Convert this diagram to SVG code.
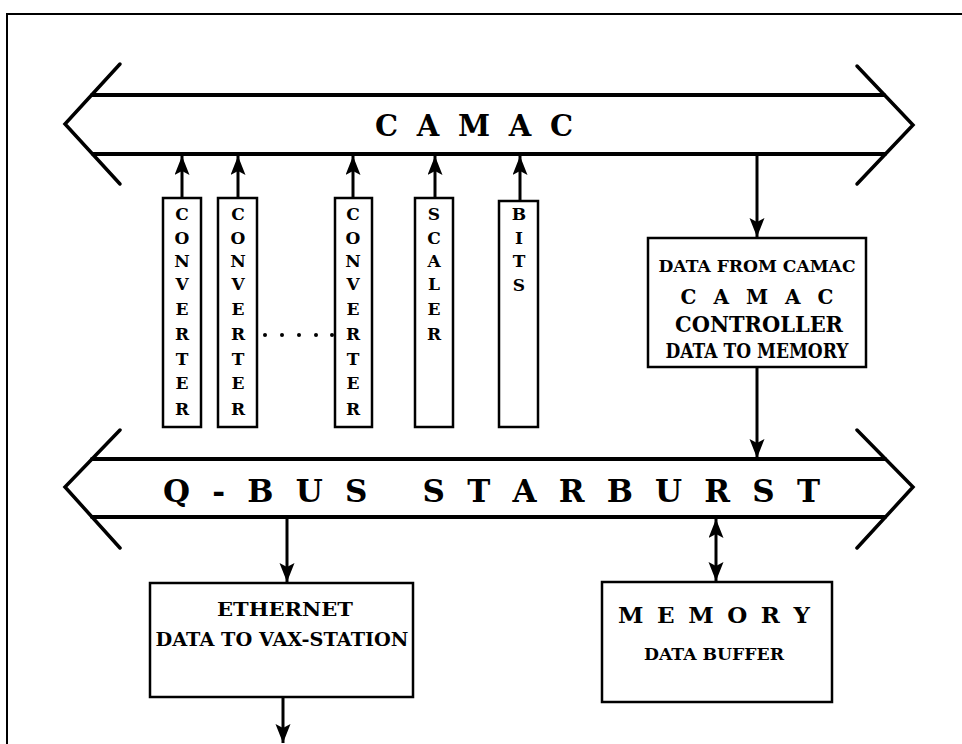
<svg xmlns="http://www.w3.org/2000/svg" width="962" height="744" viewBox="0 0 962 744">
<style>
.bus{fill:none;stroke:#000;stroke-width:4;stroke-linecap:round;stroke-linejoin:round}
.chev{fill:none;stroke:#000;stroke-width:3.5;stroke-linecap:round;stroke-linejoin:miter}
.box{fill:#fff;stroke:#000;stroke-width:2.5}
.con{fill:none;stroke:#000;stroke-width:3}
.t{font-family:"DejaVu Serif","Liberation Serif",serif;font-weight:bold;fill:#000}
.v{font-size:17px;text-anchor:middle}
.pre{white-space:pre}
</style>
<defs>
<marker id="ah" markerUnits="userSpaceOnUse" markerWidth="22" markerHeight="18" refX="19" refY="7.5" orient="auto-start-reverse">
<path d="M0,0 L19,7.5 L0,15 L4,7.5 Z" fill="#000"/>
</marker>
</defs>
<rect x="7" y="14" width="1000" height="800" fill="none" stroke="#000" stroke-width="2"/>
<g id="camac-bus">
<polyline class="chev" points="120,64 65,124 120,184"/>
<polyline class="chev" points="857,66 913,125 857,184"/>
<line class="bus" x1="92" y1="95" x2="884" y2="95"/>
<line class="bus" x1="93" y1="154" x2="885" y2="154"/>
<text class="t pre" x="375" y="136" font-size="29" textLength="198" lengthAdjust="spacing">C A M A C</text>
</g>
<g id="qbus">
<polyline class="chev" points="120,430 65,487 120,548"/>
<polyline class="chev" points="857,430 913,487 857,548"/>
<line class="bus" x1="92" y1="459" x2="885" y2="459"/>
<line class="bus" x1="92" y1="517" x2="885" y2="517"/>
<text class="t pre" x="163" y="502" font-size="31" textLength="657" lengthAdjust="spacing">Q - B U S   S T A R B U R S T</text>
</g>
<g id="conv1">
<rect class="box" x="163" y="198" width="38" height="229"/>
<text class="t v"><tspan x="182" y="220">C</tspan><tspan x="182" y="244">O</tspan><tspan x="182" y="267">N</tspan><tspan x="182" y="290">V</tspan><tspan x="182" y="315">E</tspan><tspan x="182" y="340">R</tspan><tspan x="182" y="365">T</tspan><tspan x="182" y="389">E</tspan><tspan x="182" y="415">R</tspan></text>
</g>
<g id="conv2">
<rect class="box" x="218" y="198" width="39" height="229"/>
<text class="t v"><tspan x="238" y="220">C</tspan><tspan x="238" y="244">O</tspan><tspan x="238" y="267">N</tspan><tspan x="238" y="290">V</tspan><tspan x="238" y="315">E</tspan><tspan x="238" y="340">R</tspan><tspan x="238" y="365">T</tspan><tspan x="238" y="389">E</tspan><tspan x="238" y="415">R</tspan></text>
</g>
<g id="dots">
<circle cx="265" cy="335" r="2"/><circle cx="282" cy="335" r="2"/><circle cx="299" cy="335" r="2"/><circle cx="316" cy="335" r="2"/><circle cx="332" cy="335" r="2"/>
</g>
<g id="conv3">
<rect class="box" x="335" y="198" width="37" height="229"/>
<text class="t v"><tspan x="353" y="220">C</tspan><tspan x="353" y="244">O</tspan><tspan x="353" y="267">N</tspan><tspan x="353" y="290">V</tspan><tspan x="353" y="315">E</tspan><tspan x="353" y="340">R</tspan><tspan x="353" y="365">T</tspan><tspan x="353" y="389">E</tspan><tspan x="353" y="415">R</tspan></text>
</g>
<g id="scaler">
<rect class="box" x="415" y="198" width="38" height="229"/>
<text class="t v"><tspan x="434" y="220">S</tspan><tspan x="434" y="244">C</tspan><tspan x="434" y="267">A</tspan><tspan x="434" y="290">L</tspan><tspan x="434" y="315">E</tspan><tspan x="434" y="340">R</tspan></text>
</g>
<g id="bits">
<rect class="box" x="499" y="201" width="39" height="226"/>
<text class="t v"><tspan x="519" y="220">B</tspan><tspan x="519" y="244">I</tspan><tspan x="519" y="267">T</tspan><tspan x="519" y="291">S</tspan></text>
</g>
<g id="controller">
<rect class="box" x="648" y="238" width="218" height="129"/>
<text class="t" x="757" y="272" font-size="17" font-weight="normal" text-anchor="middle" textLength="197" lengthAdjust="spacingAndGlyphs">DATA FROM CAMAC</text>
<text class="t pre" x="757" y="304" font-size="20" text-anchor="middle" textLength="153" lengthAdjust="spacing">C A M A C</text>
<text class="t" x="759" y="332" font-size="23" font-weight="normal" text-anchor="middle" textLength="168" lengthAdjust="spacingAndGlyphs">CONTROLLER</text>
<text class="t" x="757" y="358" font-size="20" font-weight="normal" text-anchor="middle" textLength="183" lengthAdjust="spacingAndGlyphs">DATA TO MEMORY</text>
</g>
<g id="ethernet">
<rect class="box" x="150" y="583" width="263" height="114"/>
<text class="t" x="285" y="616" font-size="19" text-anchor="middle" textLength="136" lengthAdjust="spacingAndGlyphs">ETHERNET</text>
<text class="t" x="282" y="646" font-size="19" text-anchor="middle" textLength="253" lengthAdjust="spacingAndGlyphs">DATA TO VAX-STATION</text>
</g>
<g id="memory">
<rect class="box" x="602" y="582" width="230" height="120"/>
<text class="t pre" x="714" y="623" font-size="23" text-anchor="middle" textLength="192" lengthAdjust="spacing">M E M O R Y</text>
<text class="t" x="714" y="660" font-size="16" text-anchor="middle" textLength="140" lengthAdjust="spacingAndGlyphs">DATA BUFFER</text>
</g>
<g id="connectors">
<line class="con" x1="182" y1="198" x2="182" y2="156" marker-end="url(#ah)"/>
<line class="con" x1="238" y1="198" x2="238" y2="156" marker-end="url(#ah)"/>
<line class="con" x1="353" y1="198" x2="353" y2="156" marker-end="url(#ah)"/>
<line class="con" x1="435" y1="198" x2="435" y2="156" marker-end="url(#ah)"/>
<line class="con" x1="520" y1="201" x2="520" y2="156" marker-end="url(#ah)"/>
<line class="con" x1="757" y1="156" x2="757" y2="237" marker-end="url(#ah)"/>
<line class="con" x1="757" y1="367" x2="757" y2="458" marker-end="url(#ah)"/>
<line class="con" x1="287" y1="519" x2="287" y2="582" marker-end="url(#ah)"/>
<line class="con" x1="283" y1="697" x2="283" y2="743" marker-end="url(#ah)"/>
<line class="con" x1="716" y1="519" x2="716" y2="581" marker-start="url(#ah)" marker-end="url(#ah)"/>
</g>
</svg>
